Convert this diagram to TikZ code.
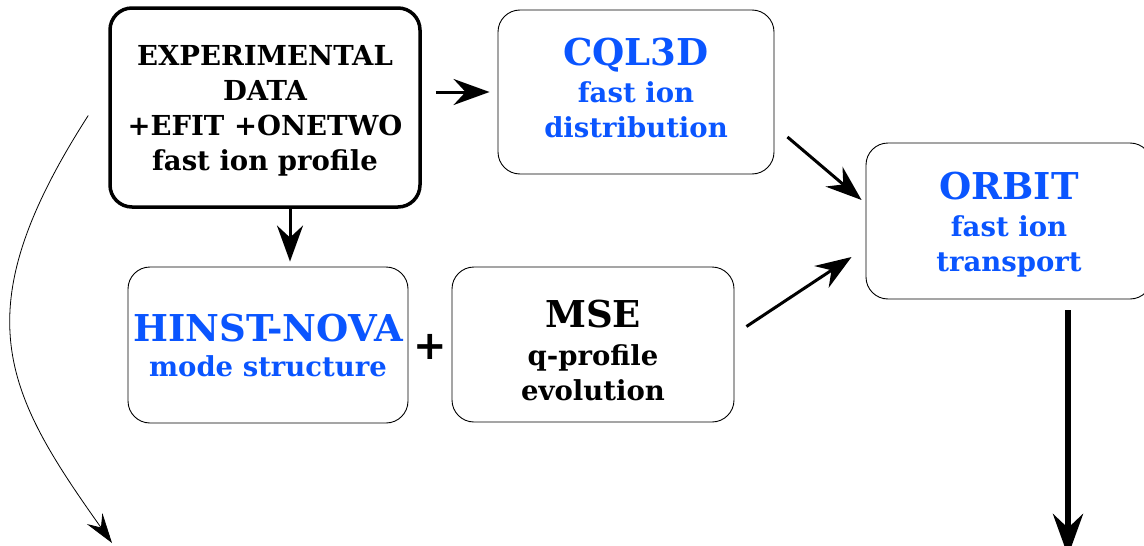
\documentclass[tikz,border=0pt]{standalone}
\usepackage{fontspec}
\setmainfont{DejaVu Serif}
\newfontfamily\plusfont{DejaVu Sans}
\usetikzlibrary{arrows.meta}
\definecolor{codeblue}{RGB}{10,85,255}
\newcommand{\boxhead}[1]{{\fontsize{37}{40}\selectfont #1}}

\begin{document}
\begin{tikzpicture}[x=1pt,y=-1pt,
    fbox/.style={draw,rounded corners=22pt,align=center,inner sep=0pt,line width=0.9pt,font=\bfseries\fontsize{27.5}{35}\selectfont},
    flow/.style={line width=3pt,-{Stealth[length=36pt,width=26pt,inset=12pt]}}]
    \useasboundingbox (0,0) rectangle (1144,546);

    \node[fbox, line width=3.5pt, minimum width=310pt, minimum height=199pt] (exp) at (265,107.5)
          {\rule{0pt}{26pt}EXPERIMENTAL\\DATA\\+EFIT +ONETWO\\fast ion profile};
    \node[fbox, text=codeblue, minimum width=276pt, minimum height=164pt] (cql) at (636,92)
          {\boxhead{CQL3D}\\[2pt]fast ion\\distribution\rule[-8pt]{0pt}{0pt}};
    \node[fbox, text=codeblue, minimum width=286pt, minimum height=156pt] (orbit) at (1009,221)
          {\rule{0pt}{35pt}\boxhead{ORBIT}\\[2pt]fast ion\\transport};
    \node[fbox, text=codeblue, minimum width=280pt, minimum height=156pt] (hinst) at (268,345)
          {\boxhead{HINST-NOVA}\\mode structure};
    \node[fbox, minimum width=282pt, minimum height=155pt] (mse) at (593,344.5)
          {\rule{0pt}{39pt}\boxhead{MSE}\\[3pt]q-profile\\evolution};
    \node[font=\plusfont\bfseries\fontsize{40}{40}\selectfont] (plus) at (430,347) {+};

    \coordinate (down) at (1068,556);
    \coordinate (loop) at (112,543);

    \draw[flow, shorten <=14pt, shorten >=8pt] (exp.east |- cql.west) -- (cql.west);
    \draw[flow, shorten >=5pt] ([xshift=25pt]exp.south) -- ([xshift=22pt]hinst.north);
    \draw[flow] ([xshift=13pt,yshift=-45pt]cql.east) -- ([xshift=-4pt,yshift=21pt]orbit.west);
    \draw[flow] ([xshift=12pt,yshift=18pt]mse.east) -- ([xshift=-14pt,yshift=-36pt]orbit.west);
    \draw[line width=6pt,-{Stealth[length=42pt,width=30pt,inset=14pt]}]
          ([xshift=59pt,yshift=-11pt]orbit.south) -- (down);
    \draw[line width=0.8pt,-{Stealth[length=30pt,width=19pt,inset=11pt]}]
          ([xshift=-20pt,yshift=-8pt]exp.west) .. controls (-38,312) and (4,391) .. (loop);

\end{tikzpicture}
\end{document}
